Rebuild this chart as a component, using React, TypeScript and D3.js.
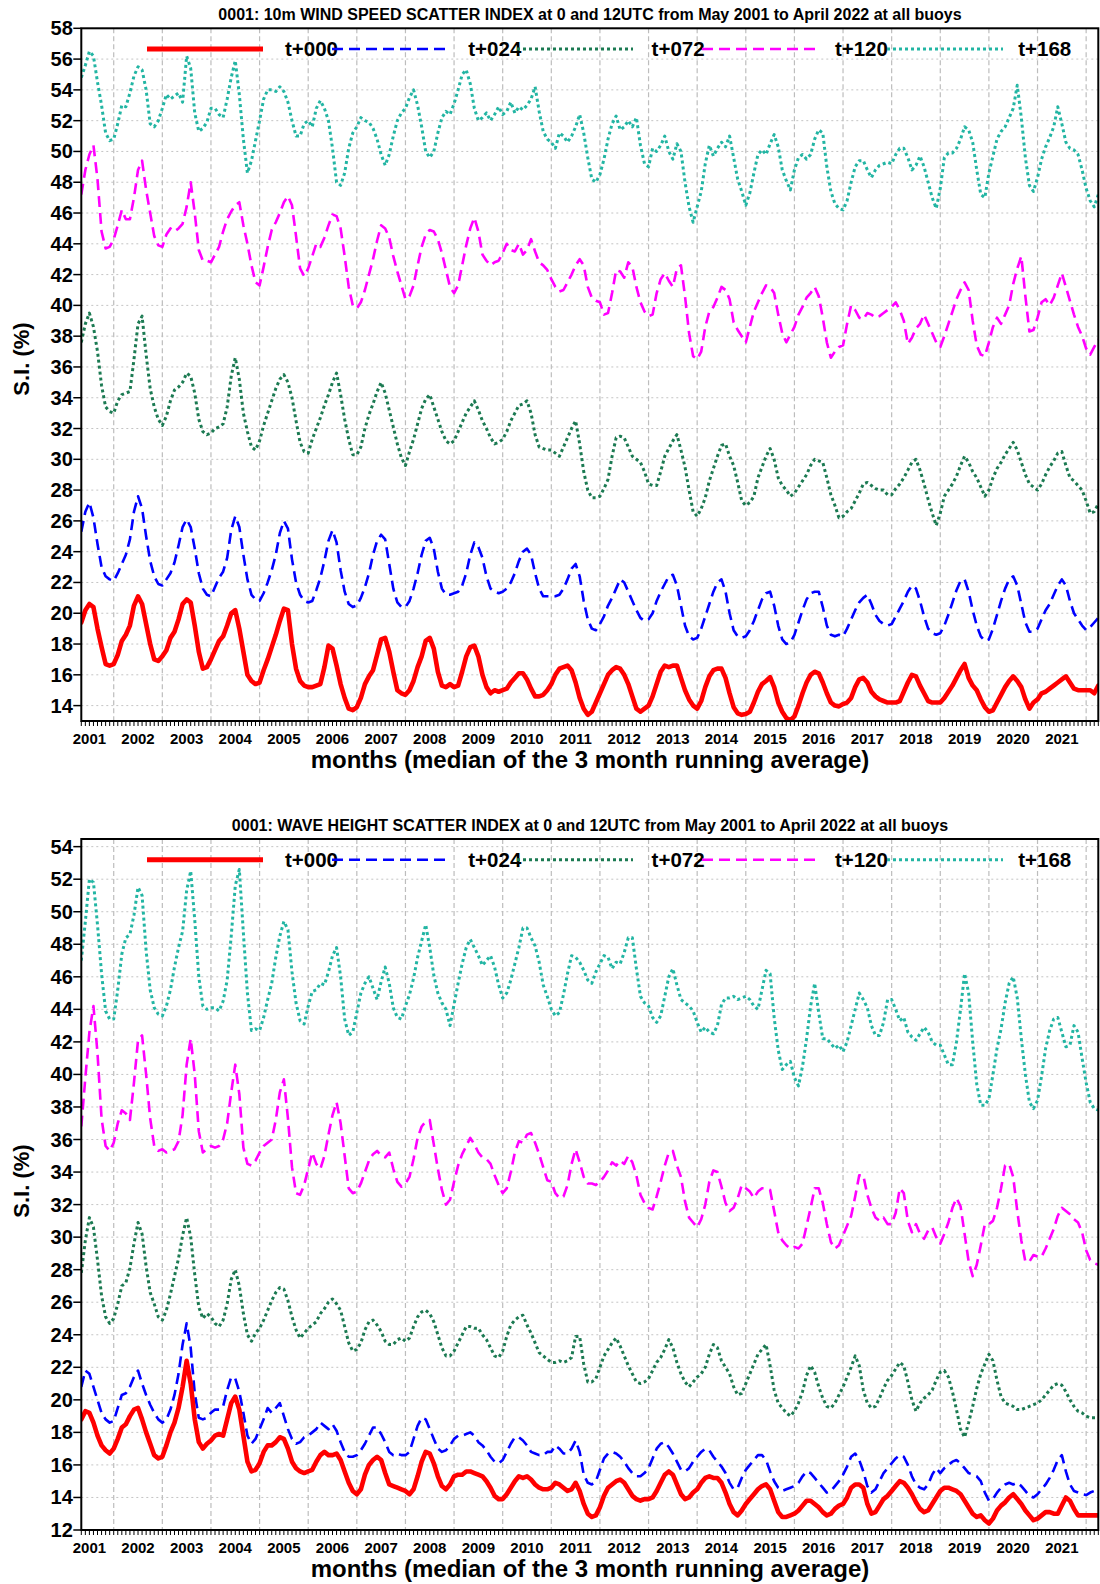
import React from "react";
import * as d3 from "d3";

// ---------- categories / labels ----------
const FIRST_YEAR = 2001;
const FIRST_MONTH = 5; // May 2001
const YEAR_LABELS = ["2001","2002","2003","2004","2005","2006","2007","2008","2009","2010","2011","2012","2013","2014","2015","2016","2017","2018","2019","2020","2021"];
const GRID_YEARS = [2002,2003,2004,2005,2006,2007,2008,2009,2010,2011,2012,2013,2014,2015,2016,2017,2018,2019,2020,2021,2022];
const LEAD_LABELS = ["t+000", "t+024", "t+072", "t+120", "t+168"];
const WIND_TITLE = "0001: 10m WIND SPEED SCATTER INDEX at 0 and 12UTC from May 2001 to April 2022 at all buoys";
const WAVE_TITLE = "0001: WAVE HEIGHT SCATTER INDEX at 0 and 12UTC from May 2001 to April 2022 at all buoys";
const X_TITLE = "months (median of the 3 month running average)";
const Y_TITLE = "S.I. (%)";
const WIND_Y_TICKS = [14,16,18,20,22,24,26,28,30,32,34,36,38,40,42,44,46,48,50,52,54,56,58];
const WAVE_Y_TICKS = [12,14,16,18,20,22,24,26,28,30,32,34,36,38,40,42,44,46,48,50,52,54];

// ---------- wind speed SI, monthly May 2001 .. Apr 2022 ----------
const windT000 = [
  19.4,20.2,20.6,20.4,19.0,17.8,16.7,16.6,
  16.7,17.3,18.2,18.6,19.2,20.5,21.1,20.6,19.3,18.0,17.0,16.9,
  17.2,17.6,18.4,18.8,19.6,20.6,20.9,20.7,19.2,17.5,16.4,16.5,
  17.0,17.6,18.2,18.5,19.2,20.0,20.2,19.0,17.5,16.0,15.6,15.4,
  15.5,16.3,17.0,17.8,18.6,19.5,20.3,20.2,18.0,16.4,15.6,15.3,
  15.2,15.2,15.3,15.4,16.5,17.9,17.7,16.6,15.4,14.5,13.8,13.7,
  13.9,14.5,15.4,15.9,16.3,17.3,18.3,18.4,17.5,16.2,15.0,14.8,
  14.7,15.0,15.6,16.5,17.2,18.2,18.4,17.7,16.2,15.3,15.2,15.4,
  15.2,15.3,16.2,17.2,17.8,17.9,17.2,16.0,15.2,14.8,15.0,14.9,
  15.0,15.1,15.5,15.8,16.1,16.1,15.7,15.1,14.6,14.6,14.7,15.0,
  15.4,16.0,16.4,16.5,16.6,16.3,15.5,14.5,13.8,13.4,13.6,14.2,
  14.8,15.4,16.0,16.3,16.5,16.4,16.0,15.4,14.6,13.8,13.6,13.8,
  14.0,14.6,15.4,16.2,16.6,16.5,16.6,16.6,15.8,15.0,14.4,14.0,
  13.8,14.3,15.2,15.9,16.3,16.4,16.4,15.8,14.8,13.9,13.5,13.4,
  13.45,13.6,14.2,14.9,15.4,15.6,15.85,15.2,14.2,13.6,13.2,13.05,
  13.3,14.0,14.8,15.5,16.0,16.2,16.1,15.5,14.8,14.2,14.0,13.95,
  14.1,14.2,14.5,15.2,15.7,15.8,15.5,14.9,14.6,14.4,14.3,14.2,
  14.2,14.2,14.3,14.9,15.5,16.0,15.9,15.3,14.8,14.3,14.2,14.2,
  14.2,14.5,14.9,15.3,15.8,16.3,16.7,15.8,15.3,15.0,14.4,13.9,
  13.6,13.7,14.2,14.7,15.2,15.6,15.9,15.6,15.2,14.4,13.8,14.2,
  14.4,14.8,14.9,15.1,15.3,15.5,15.7,15.9,15.5,15.1,15.0,15.0,
  15.0,15.0,14.8,15.3
];
const windT024 = [
  25.3,26.6,27.2,26.2,24.5,23.0,22.4,22.2,
  22.1,22.6,23.2,23.8,24.8,26.6,27.6,26.8,25.0,23.4,22.4,21.9,
  21.8,22.2,22.6,23.3,24.4,25.6,26.1,25.6,24.2,22.6,21.6,21.2,
  21.1,21.7,22.3,22.7,23.6,25.4,26.3,25.6,23.8,22.2,21.2,20.9,
  20.8,21.3,22.0,22.8,23.8,25.2,26.0,25.5,23.5,22.0,21.2,20.8,
  20.7,20.8,21.5,22.3,23.4,24.7,25.4,24.6,22.8,21.4,20.6,20.4,
  20.5,21.0,21.7,22.6,23.8,24.7,25.1,24.8,23.2,21.6,20.7,20.4,
  20.4,20.8,21.6,22.6,23.8,24.7,24.9,24.2,22.7,21.6,21.2,21.2,
  21.3,21.4,21.8,22.6,23.8,24.6,24.3,23.6,22.4,21.6,21.4,21.3,
  21.4,21.6,22.0,22.6,23.4,24.0,24.2,23.8,22.6,21.6,21.1,21.1,
  21.1,21.1,21.2,21.6,22.2,22.9,23.2,22.4,20.8,19.6,19.0,18.9,
  19.3,19.8,20.5,21.0,21.6,22.2,22.0,21.4,20.8,20.2,19.7,19.5,
  19.6,20.0,20.8,21.4,21.9,22.4,22.5,21.8,20.5,19.2,18.5,18.3,
  18.4,19.0,19.8,20.6,21.4,22.0,22.2,21.4,20.0,18.9,18.5,18.4,
  18.5,18.9,19.5,20.2,20.9,21.3,21.4,20.5,19.2,18.3,18.0,18.1,
  18.6,19.4,20.2,20.9,21.3,21.4,21.4,20.4,19.2,18.6,18.5,18.6,
  18.5,19.0,19.6,20.2,20.7,21.0,21.2,20.6,19.9,19.5,19.3,19.2,
  19.3,19.8,20.3,20.8,21.4,21.8,21.6,20.8,19.8,19.0,18.7,18.6,
  18.7,19.2,19.9,20.7,21.5,22.1,22.2,21.4,20.2,19.2,18.5,18.2,
  18.3,19.0,19.9,20.8,21.6,22.2,22.4,21.8,20.6,19.4,18.8,18.8,
  19.0,19.6,20.2,20.6,21.2,21.8,22.2,21.8,20.8,20.0,19.6,19.2,
  18.9,19.1,19.4,19.7
];
const windT072 = [
  37.6,38.8,39.5,38.6,37.0,34.8,33.4,33.1,
  33.0,33.8,34.2,34.3,34.4,36.5,38.8,39.3,36.8,34.6,33.4,32.6,
  32.2,32.8,33.8,34.5,34.7,35.0,35.6,35.4,34.3,32.6,31.8,31.6,
  31.7,32.0,32.1,32.3,33.4,35.4,36.6,35.2,33.0,31.8,30.8,30.6,
  31.2,32.2,33.0,33.8,34.6,35.2,35.5,35.0,34.0,32.5,31.1,30.5,
  30.4,31.3,32.0,32.7,33.5,34.2,35.0,35.6,34.2,32.6,31.3,30.3,
  30.3,30.8,32.0,32.9,33.6,34.4,35.0,34.3,33.2,32.1,31.0,30.1,
  29.6,30.5,31.3,32.3,33.3,33.9,34.2,33.4,32.6,31.8,31.2,31.0,
  31.2,31.8,32.4,33.0,33.4,33.8,33.2,32.5,32.0,31.4,31.0,31.1,
  31.3,31.8,32.5,33.0,33.5,33.6,33.8,33.0,31.6,30.8,30.7,30.6,
  30.6,30.4,30.2,30.8,31.4,32.0,32.5,31.0,29.2,28.0,27.5,27.5,
  27.6,28.1,28.7,30.2,31.4,31.5,31.4,30.8,30.2,30.0,29.8,29.2,
  28.4,28.3,28.3,29.2,30.2,30.7,31.2,31.6,30.6,29.5,28.0,26.6,
  26.3,26.8,27.5,28.6,29.4,30.2,30.9,31.0,30.2,29.6,28.5,27.3,
  27.0,27.2,27.6,28.8,29.5,30.2,30.7,30.0,28.8,28.3,28.0,27.6,
  27.8,28.2,28.6,29.0,29.6,30.0,29.9,29.8,28.8,27.7,27.0,26.2,
  26.3,26.6,26.8,27.3,27.8,28.4,28.5,28.3,28.1,28.0,28.0,27.7,
  27.7,28.1,28.4,28.8,29.3,29.8,30.0,29.3,28.4,27.4,26.5,25.7,
  26.5,27.6,28.0,28.4,28.9,29.6,30.2,29.8,29.2,28.8,28.2,27.6,
  28.0,28.8,29.4,29.8,30.3,30.7,31.1,30.6,29.8,29.0,28.4,28.2,
  28.0,28.4,29.0,29.5,29.9,30.4,30.5,29.6,28.8,28.6,28.3,28.0,
  27.3,26.5,26.6,27.1
];
const windT120 = [
  47.2,48.8,49.8,50.4,48.2,44.8,43.7,43.8,
  44.3,45.2,46.2,45.6,45.6,47.0,48.8,49.4,47.5,46.0,44.5,43.9,
  43.8,44.6,45.0,44.8,45.0,45.3,46.4,48.0,46.0,43.6,42.9,42.9,
  42.8,43.3,43.8,44.8,45.6,46.1,46.5,46.7,45.2,44.0,42.6,41.5,
  41.3,42.5,43.8,44.9,45.4,46.0,46.7,47.1,46.5,44.5,42.4,41.9,
  42.4,43.2,44.0,43.8,44.4,45.2,45.9,45.8,45.0,43.2,41.2,40.0,
  39.8,40.2,41.0,42.0,43.0,44.2,45.2,45.0,44.4,43.2,42.2,41.3,
  40.4,40.6,41.3,42.6,43.8,44.6,44.9,44.8,44.3,43.4,42.3,41.2,
  40.8,41.3,42.6,43.9,45.0,45.7,44.8,43.3,42.9,42.6,42.8,42.9,
  43.4,44.0,43.6,43.5,44.0,43.3,43.6,44.3,43.5,42.8,42.6,42.3,
  41.7,41.2,40.9,41.0,41.5,42.0,42.6,43.0,42.6,41.2,40.5,40.3,
  40.2,39.4,39.5,40.8,42.3,42.2,41.8,42.8,42.5,41.2,40.2,39.6,
  39.3,39.4,40.8,41.7,42.1,41.6,41.2,42.4,42.6,40.6,38.2,36.7,
  36.5,37.0,38.6,39.6,39.9,40.5,41.2,41.0,40.4,38.9,38.4,38.0,
  37.6,38.6,39.6,40.2,40.8,41.3,41.2,40.8,39.4,38.2,37.6,38.1,
  38.6,39.4,39.9,40.5,40.8,41.2,40.6,39.2,37.6,36.6,37.0,37.3,
  37.4,38.8,40.0,39.7,39.2,39.1,39.5,39.4,39.2,39.3,39.5,39.7,
  39.9,40.2,39.7,39.0,37.5,37.9,38.5,38.8,39.4,38.8,38.2,37.6,
  37.3,38.0,38.8,39.6,40.4,41.0,41.5,41.0,39.0,37.4,36.8,36.7,
  37.6,38.6,39.2,38.8,39.4,40.0,41.4,42.4,43.2,40.6,38.3,38.4,
  39.2,40.2,40.4,40.0,40.5,41.3,42.1,41.2,40.3,39.4,38.6,38.0,
  37.2,36.8,37.3,37.8
];
const windT168 = [
  54.8,55.6,56.5,56.2,54.5,53.0,51.2,50.7,
  50.8,51.8,53.0,52.9,53.8,54.9,55.5,55.3,54.0,51.8,51.6,52.0,
  52.8,53.7,53.4,53.6,53.8,53.2,56.2,55.4,52.5,51.3,51.5,51.9,
  52.8,52.8,52.4,52.2,53.4,54.8,55.9,53.7,50.8,48.6,49.4,50.7,
  52.0,53.4,54.0,54.0,53.9,54.2,53.9,53.2,52.0,51.0,51.0,51.8,
  52.0,51.6,52.8,53.3,52.8,52.0,50.2,48.0,47.8,48.6,50.2,51.2,
  51.6,52.2,52.0,51.9,51.5,50.8,49.8,49.1,49.8,51.0,52.0,52.5,
  52.8,53.5,54.0,53.0,51.6,50.0,49.6,50.0,51.2,52.2,52.6,52.4,
  53.1,54.0,55.0,55.3,54.4,52.8,52.0,52.2,52.5,52.0,52.4,52.9,
  52.4,52.6,53.2,52.5,52.9,52.7,53.0,53.4,54.2,52.6,51.3,50.8,
  50.6,50.2,51.2,51.0,50.6,51.0,51.6,52.4,51.2,49.6,48.2,48.0,
  48.5,49.5,50.8,51.8,52.3,51.4,51.6,52.0,51.6,52.2,50.4,49.2,
  49.0,50.2,50.0,50.4,51.0,50.0,49.5,50.5,50.0,48.0,46.4,45.4,
  46.4,47.4,49.2,50.4,49.7,50.2,50.6,50.3,51.0,49.6,48.2,47.4,
  46.5,47.3,48.6,49.8,50.1,49.8,50.5,51.1,50.3,48.8,48.1,47.5,
  48.8,49.6,49.8,49.5,49.8,50.8,51.4,51.2,49.0,47.4,46.6,46.3,
  46.2,46.8,48.0,49.0,49.4,49.4,48.8,48.3,48.8,49.1,49.2,49.3,
  49.2,49.8,50.2,50.2,49.6,48.8,49.1,49.7,49.0,48.0,47.0,46.3,
  47.6,49.6,49.9,49.9,50.2,50.8,51.6,51.4,50.6,48.8,47.2,47.0,
  48.6,49.7,50.8,51.3,51.6,52.2,52.8,54.3,52.2,49.6,47.8,47.4,
  48.3,49.5,50.3,50.9,51.6,52.9,51.8,50.6,50.2,50.1,49.8,48.8,
  47.6,46.8,46.4,47.2
];

// ---------- wave height SI, monthly May 2001 .. Apr 2022 ----------
const waveT000 = [
  18.8,19.3,19.2,18.6,17.8,17.2,16.9,16.7,
  17.0,17.6,18.3,18.5,19.0,19.4,19.5,18.8,18.0,17.3,16.6,16.4,
  16.5,17.2,18.0,18.6,19.5,20.8,22.4,21.0,18.8,17.4,17.0,17.3,
  17.5,17.8,17.9,17.8,18.8,19.8,20.2,19.4,17.8,16.2,15.6,15.7,
  16.1,16.8,17.2,17.2,17.4,17.7,17.6,17.0,16.2,15.8,15.6,15.5,
  15.6,15.7,16.2,16.6,16.8,16.6,16.6,16.7,16.3,15.6,14.9,14.4,
  14.2,14.5,15.4,16.0,16.3,16.5,16.3,15.5,14.8,14.7,14.6,14.5,
  14.4,14.2,14.5,15.3,16.2,16.8,16.7,16.1,15.3,14.7,14.5,14.8,
  15.3,15.4,15.4,15.6,15.6,15.5,15.4,15.3,15.0,14.6,14.1,13.9,
  13.9,14.2,14.6,15.0,15.3,15.2,15.3,15.1,14.8,14.6,14.5,14.5,
  14.6,14.9,14.8,14.6,14.4,14.5,14.9,14.4,13.6,13.0,12.8,12.9,
  13.4,14.1,14.6,14.8,15.0,15.1,14.9,14.5,14.1,13.9,13.8,13.9,
  13.9,14.0,14.4,14.9,15.4,15.6,15.4,14.8,14.2,13.9,14.0,14.3,
  14.5,14.9,15.2,15.3,15.2,15.2,14.9,14.3,13.6,13.1,12.9,13.2,
  13.6,13.9,14.2,14.5,14.7,14.8,14.5,13.8,13.1,12.8,12.8,12.9,
  13.0,13.2,13.5,13.8,13.8,13.6,13.4,13.1,12.9,13.0,13.3,13.5,
  13.6,14.0,14.6,14.8,14.8,14.6,13.6,13.0,13.1,13.5,13.9,14.1,
  14.4,14.7,15.0,14.9,14.6,14.2,13.7,13.3,13.1,13.2,13.6,14.0,
  14.4,14.6,14.6,14.5,14.4,14.2,13.8,13.4,13.0,12.8,12.9,12.6,
  12.4,12.7,13.2,13.5,13.7,14.0,14.2,13.9,13.6,13.2,12.9,12.6,
  12.7,12.9,13.1,13.1,13.0,13.0,13.5,14.0,13.8,13.3,12.9,12.9,
  12.9,12.9,12.9,12.9
];
const waveT024 = [
  20.8,21.8,21.6,20.8,20.0,19.2,18.8,18.6,
  18.7,19.5,20.3,20.4,20.8,21.4,21.8,21.0,20.3,19.7,19.2,18.8,
  18.6,18.8,19.4,20.3,21.6,23.4,24.7,23.2,20.4,18.9,18.8,18.9,
  19.2,19.4,19.4,19.6,20.6,21.4,21.3,20.5,19.2,17.8,17.3,17.6,
  18.2,18.8,19.5,19.2,19.5,19.8,19.0,18.2,17.6,17.3,17.4,17.7,
  17.8,18.0,18.2,18.6,18.4,18.2,18.5,18.1,17.4,16.8,16.5,16.5,
  16.6,16.9,17.3,17.8,18.3,18.3,17.9,17.4,16.8,16.6,16.7,16.6,
  16.6,16.8,17.6,18.4,18.9,18.8,18.2,17.6,17.0,16.8,16.9,17.2,
  17.6,17.8,17.8,17.9,18.0,17.8,17.4,17.2,16.9,16.5,16.2,16.1,
  16.3,16.8,17.3,17.7,17.7,17.5,17.2,16.8,16.7,16.6,16.6,16.8,
  16.8,17.2,17.0,16.7,16.7,17.0,17.5,16.8,15.4,14.9,14.8,15.0,
  15.7,16.4,16.7,16.8,16.7,16.5,16.2,15.8,15.5,15.3,15.3,15.5,
  15.8,16.4,17.0,17.3,17.4,17.1,16.7,16.2,15.7,15.6,15.8,16.2,
  16.5,16.8,17.0,16.9,16.5,16.2,15.9,15.5,14.9,14.5,14.6,15.2,
  15.7,16.0,16.3,16.6,16.6,16.3,15.6,15.0,14.6,14.4,14.5,14.6,
  14.7,14.9,15.3,15.6,15.5,15.2,14.9,14.6,14.3,14.4,14.7,15.0,
  15.4,15.9,16.5,16.7,16.3,15.6,14.7,14.3,14.5,15.0,15.5,15.8,
  16.1,16.4,16.6,16.5,16.0,15.3,14.8,14.6,14.5,14.8,15.4,15.8,
  15.5,15.8,16.0,16.2,16.3,16.1,15.8,15.5,15.4,15.3,15.0,14.3,
  13.8,13.9,14.3,14.6,14.8,14.9,14.8,14.9,14.7,14.4,14.1,14.0,
  14.2,14.5,14.8,15.2,15.7,16.3,16.6,15.6,14.8,14.4,14.3,14.2,
  14.15,14.3,14.4,14.5
];
const waveT072 = [
  27.8,29.8,31.2,30.6,28.6,26.4,25.1,24.7,
  25.0,25.9,27.0,27.2,28.1,29.6,30.9,30.2,28.2,26.6,25.9,25.1,
  24.9,25.5,26.5,27.6,28.7,30.1,31.2,30.0,27.7,25.7,25.0,25.3,
  25.1,24.7,24.5,24.9,25.9,27.4,28.0,27.0,25.3,24.0,23.6,24.1,
  24.4,24.9,25.5,26.1,26.6,26.9,26.8,26.1,25.1,24.3,23.8,24.1,
  24.4,24.6,24.8,25.3,25.6,26.0,26.2,25.9,25.5,24.5,23.5,23.0,
  23.1,23.5,24.3,24.8,24.9,24.6,24.2,23.6,23.4,23.4,23.7,23.8,
  23.6,23.8,24.5,25.1,25.4,25.5,25.3,24.8,24.0,23.2,22.7,22.7,
  23.0,23.5,24.0,24.5,24.5,24.4,24.4,24.0,23.7,23.2,22.7,22.6,
  23.0,23.9,24.6,24.9,25.1,25.2,24.6,24.1,23.5,22.9,22.7,22.5,
  22.3,22.3,22.4,22.3,22.4,22.6,23.9,23.9,22.2,21.1,21.1,21.3,
  22.0,22.7,23.1,23.5,23.8,23.3,22.7,22.1,21.6,21.1,21.0,21.1,
  21.3,21.8,22.3,22.6,23.1,23.7,23.2,22.3,21.6,21.1,20.8,21.1,
  21.4,21.6,22.0,22.8,23.4,23.2,22.4,22.0,21.6,20.8,20.3,20.4,
  21.0,21.6,22.2,22.8,23.1,23.4,22.1,20.6,19.8,19.5,19.2,19.0,
  19.3,19.8,20.5,21.5,22.1,21.7,20.8,20.1,19.6,19.5,19.8,20.3,
  20.8,21.4,22.0,22.7,22.1,20.6,19.8,19.5,19.6,20.1,20.7,21.2,
  21.5,21.9,22.3,22.1,21.1,20.0,19.3,19.8,20.1,20.3,20.6,21.2,
  21.7,21.8,21.4,20.5,19.4,18.2,17.7,18.6,19.6,20.7,21.6,22.2,
  22.8,22.4,21.2,20.2,19.8,19.7,19.6,19.4,19.4,19.5,19.6,19.7,
  19.8,20.0,20.3,20.6,20.9,21.0,20.9,20.5,20.0,19.6,19.3,19.2,
  19.0,18.9,18.9,18.9
];
const waveT120 = [
  36.8,39.8,42.6,44.2,41.3,37.3,35.6,35.3,
  35.8,37.0,37.8,37.6,37.2,39.5,42.1,42.4,40.0,37.3,35.6,35.3,
  35.4,35.2,35.3,35.4,35.9,37.5,40.6,42.2,40.0,36.5,35.2,35.4,
  35.6,35.5,35.6,36.0,37.0,38.9,40.6,38.8,35.5,34.5,34.4,34.7,
  35.2,35.6,35.8,36.0,37.2,38.9,39.7,37.3,34.3,32.7,32.6,33.2,
  34.2,35.2,34.5,34.2,35.0,36.3,37.5,38.3,37.0,35.0,33.0,32.7,
  32.8,33.3,34.0,34.7,35.1,35.3,35.0,34.9,35.2,34.2,33.4,33.1,
  33.3,33.7,34.8,36.1,36.8,37.1,37.2,35.7,34.2,32.9,32.0,32.3,
  33.4,34.4,35.1,35.6,36.1,35.7,35.2,34.9,34.8,34.5,33.8,33.2,
  32.7,33.0,34.0,35.2,35.9,35.8,36.3,36.4,35.8,35.1,34.3,33.5,
  33.4,32.7,32.4,32.5,33.2,34.5,35.4,34.6,33.7,33.3,33.3,33.2,
  33.4,33.7,34.1,34.6,34.4,34.7,34.5,35.0,34.6,33.8,32.6,32.1,
  31.8,31.7,32.5,33.4,34.4,35.2,35.3,34.4,33.7,32.2,31.2,30.9,
  30.6,31.1,32.0,33.4,34.1,34.0,33.1,32.1,31.6,31.8,32.4,33.2,
  33.0,32.8,32.4,32.8,33.0,33.0,32.9,31.6,30.3,29.8,29.5,29.3,
  29.4,29.3,29.6,30.7,31.8,33.0,33.0,32.1,30.8,29.7,29.3,29.5,
  30.1,30.7,31.3,32.5,33.8,33.8,32.6,31.8,31.2,31.0,31.2,30.8,
  30.8,31.5,33.0,32.7,31.0,30.3,30.8,30.2,29.9,30.4,30.6,30.0,
  29.6,30.2,30.9,31.8,32.4,31.9,30.2,28.5,27.6,28.3,29.5,30.8,
  30.8,31.0,31.8,33.0,34.4,34.5,33.7,31.6,29.8,28.5,28.5,28.9,
  28.8,28.8,29.3,29.9,30.5,31.3,31.8,31.6,31.4,31.1,30.9,30.3,
  29.2,28.6,28.4,28.3
];
const waveT168 = [
  47.0,49.4,52.0,51.8,49.2,46.2,43.9,43.4,
  43.4,45.2,47.4,48.4,48.6,49.8,51.5,51.0,47.6,45.2,44.1,43.7,
  43.6,44.2,45.2,46.6,47.8,48.8,51.3,52.5,49.5,46.0,44.2,44.0,
  44.1,44.1,43.9,44.5,45.8,48.5,51.6,52.6,48.7,45.0,42.7,42.8,
  42.7,43.5,44.6,45.6,47.2,48.5,49.4,48.9,46.3,44.4,43.3,43.1,
  44.2,45.1,45.2,45.6,45.5,46.3,47.3,47.8,46.0,43.4,42.4,42.6,
  43.8,45.0,45.6,46.0,45.3,44.6,45.7,46.6,45.6,44.1,43.5,43.4,
  44.2,44.9,45.9,47.2,48.2,49.2,47.8,46.1,45.0,44.4,44.0,43.0,
  44.3,45.6,46.8,47.8,48.3,47.8,47.3,46.7,47.0,47.3,46.6,45.5,
  44.7,45.0,45.8,46.8,47.8,49.0,49.0,48.4,47.9,46.9,45.5,44.8,
  44.0,43.6,43.8,44.9,46.2,47.3,47.2,46.9,46.4,45.8,45.6,46.3,
  46.8,47.3,47.2,46.5,46.9,46.8,47.5,48.4,48.4,46.5,44.8,44.4,
  44.2,43.5,43.2,43.6,44.8,46.0,46.5,45.5,44.6,44.4,44.2,43.9,
  43.2,42.6,42.9,42.6,42.5,43.0,44.3,44.7,44.7,44.8,44.6,44.7,
  44.8,44.6,44.2,44.0,45.2,46.4,46.2,43.5,41.5,40.3,40.6,40.8,
  39.8,39.3,40.5,42.2,44.2,45.6,43.8,42.2,42.2,41.9,41.6,41.8,
  41.4,42.0,43.0,44.0,45.0,44.6,44.1,43.0,42.4,42.4,43.2,44.6,
  44.6,44.0,43.3,43.5,42.6,42.3,42.1,42.5,42.9,42.6,42.0,41.8,
  41.8,41.2,40.6,40.6,42.0,44.0,46.2,45.0,42.0,39.4,38.1,38.1,
  38.5,40.0,41.6,42.8,44.4,45.6,46.0,44.7,42.2,40.0,38.3,37.9,
  38.4,39.9,41.6,42.7,43.4,43.5,42.6,41.7,41.8,43.0,42.6,41.0,
  39.5,38.3,37.9,37.8
];

const WIND_SERIES = [windT000, windT024, windT072, windT120, windT168];
const WAVE_SERIES = [waveT000, waveT024, waveT072, waveT120, waveT168];

// ---------- styles ----------
const STYLES = [
  { color: "#ff0000", width: 4.6, dash: null as string | null },
  { color: "#0000ff", width: 2.6, dash: "11,6" },
  { color: "#1b7a52", width: 3, dash: "3,3" },
  { color: "#ff00ff", width: 2.6, dash: "11,6" },
  { color: "#22b5a3", width: 3, dash: "3,3" },
];
const FONT = "'Liberation Sans', Arial, Helvetica, sans-serif";

const PLOT_LEFT = 81.3;
const PLOT_RIGHT = 1098.3;
const N_MONTHS = 252;

function monthIndex(year: number, month: number) {
  return (year - FIRST_YEAR) * 12 + (month - FIRST_MONTH);
}

type PanelProps = {
  top: number; bottom: number; yMin: number; yMax: number;
  yTicks: number[]; title: string; series: number[][]; yTitleY: number; id: string;
};

function Panel({ top, bottom, yMin, yMax, yTicks, title, series, yTitleY, id }: PanelProps) {
  const x = d3.scaleLinear().domain([0, N_MONTHS - 1]).range([PLOT_LEFT, PLOT_RIGHT]);
  const y = d3.scaleLinear().domain([yMin, yMax]).range([bottom, top]);
  const line = d3.line<number>().x((_, i) => x(i)).y((v) => y(v));
  const months = d3.range(N_MONTHS);
  const clipId = `clip-${id}`;
  const legendY = top + 20.7;
  return (
    <g>
      <defs>
        <clipPath id={clipId}>
          <rect x={PLOT_LEFT} y={top} width={PLOT_RIGHT - PLOT_LEFT} height={bottom - top} />
        </clipPath>
      </defs>
      <text x={590} y={top - 8.5} textAnchor="middle" fontFamily={FONT} fontWeight="bold" fontSize={16}>{title}</text>
      {/* horizontal grid */}
      {yTicks.map((t) => (
        <line key={`hg${t}`} x1={PLOT_LEFT} x2={PLOT_RIGHT} y1={y(t)} y2={y(t)} stroke="#c4c4c4" strokeWidth={1} strokeDasharray="2,3" />
      ))}
      {/* vertical grid */}
      {GRID_YEARS.map((yr) => (
        <line key={`vg${yr}`} x1={x(monthIndex(yr, 1))} x2={x(monthIndex(yr, 1))} y1={top} y2={bottom} stroke="#bdbdbd" strokeWidth={1.2} strokeDasharray="5,3" />
      ))}
      {/* series lines (reverse order so t+000 is on top) */}
      <g clipPath={`url(#${clipId})`}>
        {series.map((s, k) => ({ s, k })).reverse().map(({ s, k }) => (
          <path key={`s${k}`} d={line(s) || ""} fill="none" stroke={STYLES[k].color} strokeWidth={STYLES[k].width}
            strokeDasharray={STYLES[k].dash || undefined} strokeLinejoin="round" strokeLinecap={STYLES[k].dash ? "butt" : "round"} />
        ))}
      </g>
      {/* legend */}
      {LEAD_LABELS.map((lab, k) => {
        const lx = 147 + k * 185;
        const tx = 285 + k * 183.3;
        return (
          <g key={`lg${k}`}>
            <line x1={lx} x2={lx + 116} y1={legendY} y2={legendY} stroke={STYLES[k].color} strokeWidth={k === 0 ? 5 : STYLES[k].width}
              strokeDasharray={STYLES[k].dash || undefined} />
            <text x={tx} y={legendY + 7} fontFamily={FONT} fontWeight="bold" fontSize={20.5}>{lab}</text>
          </g>
        );
      })}
      {/* frame */}
      <rect x={PLOT_LEFT} y={top} width={PLOT_RIGHT - PLOT_LEFT} height={bottom - top} fill="none" stroke="#000" strokeWidth={2} />
      {/* y ticks */}
      {yTicks.map((t) => (
        <g key={`yt${t}`}>
          <line x1={PLOT_LEFT - 8} x2={PLOT_LEFT} y1={y(t)} y2={y(t)} stroke="#000" strokeWidth={1.5} />
          <text x={PLOT_LEFT - 8.5} y={y(t) + 7} textAnchor="end" fontFamily={FONT} fontWeight="bold" fontSize={20}>{t}</text>
        </g>
      ))}
      {/* month ticks */}
      {months.map((m) => (
        <line key={`mt${m}`} x1={x(m)} x2={x(m)} y1={bottom} y2={bottom + 5} stroke="#000" strokeWidth={1} />
      ))}
      {/* year labels */}
      {YEAR_LABELS.map((lab) => (
        <text key={`yl${lab}`} x={x(monthIndex(+lab, 7))} y={bottom + 22.5} textAnchor="middle" fontFamily={FONT} fontWeight="bold" fontSize={15}>{lab}</text>
      ))}
      <text x={590} y={bottom + 47} textAnchor="middle" fontFamily={FONT} fontWeight="bold" fontSize={24}>{X_TITLE}</text>
      <text transform={`translate(29,${yTitleY}) rotate(-90)`} textAnchor="middle" fontFamily={FONT} fontWeight="bold" fontSize={22}>{Y_TITLE}</text>
    </g>
  );
}

export default function App() {
  return (
    <svg width={1100} height={1584} viewBox="0 0 1100 1584" style={{ position: "absolute", left: 0, top: 0, background: "#fff" }}>
      <rect x={0} y={0} width={1100} height={1584} fill="#fff" />
      <Panel id="wind" top={28.3} bottom={721} yMin={13} yMax={58} yTicks={WIND_Y_TICKS} title={WIND_TITLE} series={WIND_SERIES} yTitleY={359} />
      <Panel id="wave" top={839} bottom={1530} yMin={12} yMax={54.47} yTicks={WAVE_Y_TICKS} title={WAVE_TITLE} series={WAVE_SERIES} yTitleY={1181} />
    </svg>
  );
}
